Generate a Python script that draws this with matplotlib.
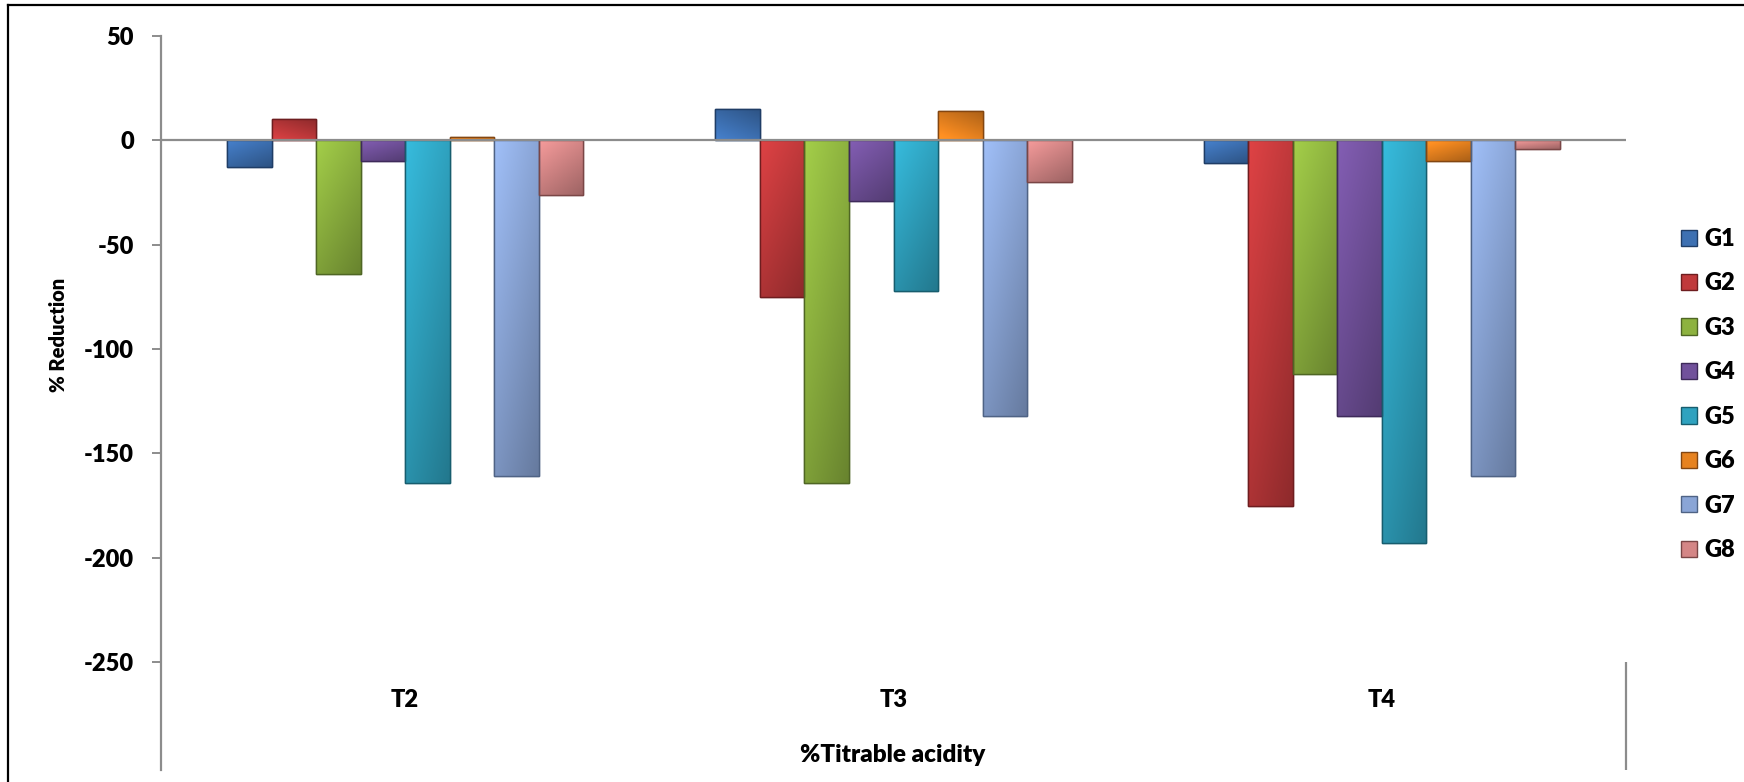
import numpy as np
import matplotlib
matplotlib.use("Agg")
import matplotlib.pyplot as plt
import matplotlib.colors as mcolors
from matplotlib.lines import Line2D

categories = ["T2", "T3", "T4"]
groups = ["G1", "G2", "G3", "G4", "G5", "G6", "G7", "G8"]

g1 = [-13, 15, -11]
g2 = [10, -75, -175]
g3 = [-64, -164, -112]
g4 = [-10, -29, -132]
g5 = [-164, -72, -193]
g6 = [1.5, 14, -10]
g7 = [-161, -132, -161]
g8 = [-26, -20, -4]
series = [g1, g2, g3, g4, g5, g6, g7, g8]

colors = ["#3d70b2", "#c0393b", "#8db23f", "#71519b", "#2fa2bf", "#e7821f", "#8aa5d6", "#d48686"]
edges = ["#1f3d66", "#6e1d1f", "#4f6624", "#3e2a5a", "#175d6e", "#834611", "#4f6385", "#7a4646"]

y_ticks = [50, 0, -50, -100, -150, -200, -250]

plt.rcParams["font.family"] = ["Lato", "DejaVu Sans"]
plt.rcParams["font.weight"] = "heavy"
FW = "heavy"

W, H = 1744, 782
fig = plt.figure(figsize=(W / 100, H / 100), dpi=100)
ax = fig.add_axes([161 / W, 1 - 769.5 / H, (1626 - 161) / W, (769.5 - 36) / H])


def shade(patch, color):
    # fake the Excel bevel with a clipped gradient
    x0, y0 = patch.get_x(), patch.get_y()
    w, h = patch.get_width(), patch.get_height()
    if h == 0:
        return
    rgb = np.array(mcolors.to_rgb(color))
    ny, nx = 80, 24
    ty = np.linspace(0, 1, ny)[:, None]
    tx = np.linspace(-1, 1, nx)[None, :]
    f = 1.08 - 0.26 * ty - 0.08 * tx
    img = np.clip(rgb[None, None, :] * f[:, :, None], 0, 1)
    if h > 0:
        img = img[::-1]
    lo, hi = min(y0, y0 + h), max(y0, y0 + h)
    im = ax.imshow(img, extent=[x0, x0 + w, lo, hi], origin="upper",
                   aspect="auto", interpolation="bilinear", zorder=2)
    im.set_clip_path(patch)


x = np.arange(len(categories))
n = len(groups)
bw = 0.0912
for i, vals in enumerate(series):
    bars = ax.bar(x + (i - (n - 1) / 2) * bw, vals, bw, color=colors[i],
                  edgecolor=edges[i], linewidth=1.0, label=groups[i], zorder=2)
    for p in bars:
        shade(p, colors[i])
        ax.add_patch(plt.Rectangle((p.get_x(), p.get_y()), p.get_width(), p.get_height(),
                                   fill=False, edgecolor=edges[i], linewidth=1.0, zorder=3))

ax.set_xlim(-0.5, len(categories) - 0.5)
ax.set_ylim(-301.5, 50)

axis_grey = "#8c8c8c"
ax.axhline(0, color=axis_grey, linewidth=1.6, zorder=4)
for s in ["top", "right", "bottom"]:
    ax.spines[s].set_visible(False)
ax.spines["left"].set_color(axis_grey)
ax.spines["left"].set_linewidth(1.6)
ax.spines["left"].set_bounds(-301.5, 50)
ax.vlines(len(categories) - 0.5, -301.5, -250, color=axis_grey, linewidth=1.6, clip_on=False)

ax.set_yticks(y_ticks)
ax.set_yticklabels([str(t) for t in y_ticks], fontweight=FW)
ax.tick_params(axis="y", length=6.5, width=1.4, color=axis_grey, pad=13, labelsize=17)
ax.set_xticks([])

for xi, c in zip(x, categories):
    ax.text(xi, -268, c, ha="center", va="center", fontsize=17, fontweight=FW)

fig.text(893 / W, 1 - 755 / H, "%Titrable acidity", ha="center", va="center",
         fontsize=17.5, fontweight=FW)
fig.text(58 / W, 1 - 335 / H, "% Reduction", ha="center", va="center",
         rotation=90, fontsize=14.5, fontweight=FW)

leg = fig.legend(loc="center left", bbox_to_anchor=(1669 / W, 1 - 394.5 / H),
                 frameon=False, borderpad=0, labelspacing=0.95,
                 prop={"size": 17, "weight": FW},
                 handlelength=0.68, handleheight=0.68, handletextpad=0.3)

# outer chart frame
fig.add_artist(Line2D([8 / W, 8 / W], [0, 1 - 5 / H], color="black", linewidth=1.6))
fig.add_artist(Line2D([8 / W, 1], [1 - 5 / H, 1 - 5 / H], color="black", linewidth=1.6))

fig.savefig("out.png", dpi=100)
